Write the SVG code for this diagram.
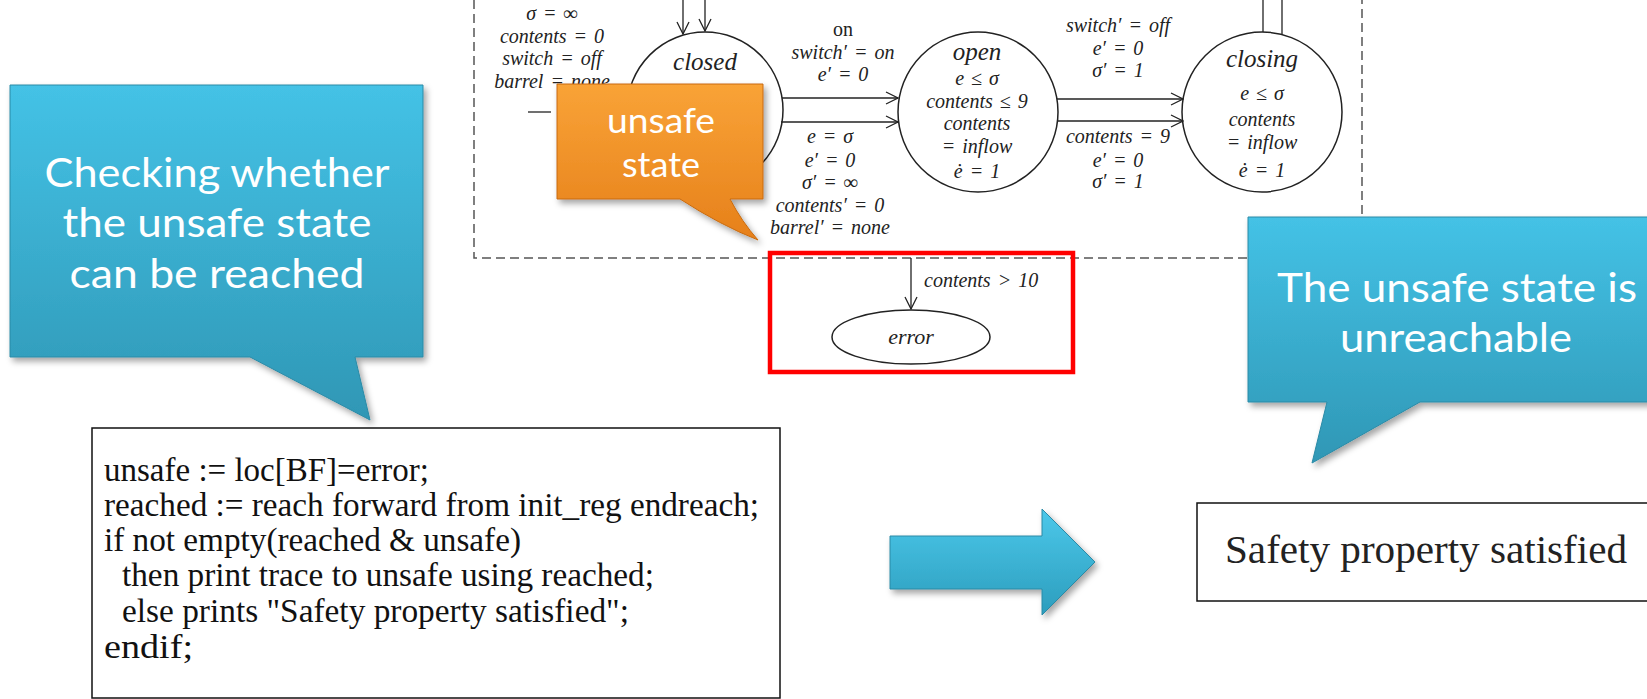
<svg xmlns="http://www.w3.org/2000/svg" width="1647" height="699" viewBox="0 0 1647 699">
<style>
.m{font-family:"Liberation Serif","DejaVu Serif",serif;font-style:italic;font-size:20px;word-spacing:2px;fill:#222;text-anchor:middle}
.r{font-family:"Liberation Serif","DejaVu Serif",serif;font-size:20px;fill:#222;text-anchor:middle}
.st{font-family:"Liberation Serif","DejaVu Serif",serif;font-style:italic;font-size:25px;fill:#222;text-anchor:middle}
.ln{stroke:#222;stroke-width:1.3;fill:none}
.code{font-family:"Liberation Serif",serif;font-size:34px;fill:#111}
.call{font-family:Lato,"Noto Sans",sans-serif;fill:#fff;text-anchor:middle}
</style>
<defs>
<linearGradient id="blue" x1="0" y1="0" x2="0" y2="1"><stop offset="0" stop-color="#44c2e6"/><stop offset="1" stop-color="#2f97b5"/></linearGradient>
<linearGradient id="blueA" x1="0" y1="0" x2="0" y2="1"><stop offset="0" stop-color="#4cc8ea"/><stop offset="1" stop-color="#2c9dbd"/></linearGradient>
<linearGradient id="orange" x1="0" y1="0" x2="0" y2="1"><stop offset="0" stop-color="#f9a337"/><stop offset="1" stop-color="#e6801a"/></linearGradient>
<filter id="sh" x="-10%" y="-10%" width="130%" height="130%"><feDropShadow dx="3" dy="4" stdDeviation="3" flood-color="#000" flood-opacity="0.35"/></filter>
<marker id="ah" markerWidth="14" markerHeight="14" refX="13" refY="7" orient="auto" markerUnits="userSpaceOnUse"><path d="M1,1 L13,7 L1,13" fill="none" stroke="#222" stroke-width="1.3"/></marker>
</defs>
<rect width="1647" height="699" fill="#fff"/>

<g id="frame"><path d="M474,0 V258 H1362 V0" fill="none" stroke="#555" stroke-width="1.5" stroke-dasharray="9,5"/></g>

<g id="connectors">
<line class="ln" x1="683" y1="0" x2="683" y2="34" marker-end="url(#ah)"/>
<line class="ln" x1="705" y1="0" x2="705" y2="31" marker-end="url(#ah)"/>
<line class="ln" x1="528" y1="112" x2="551" y2="112"/>
<line class="ln" x1="782" y1="98" x2="898" y2="98" marker-end="url(#ah)"/>
<line class="ln" x1="781" y1="122" x2="898" y2="122" marker-end="url(#ah)"/>
<line class="ln" x1="1057" y1="99" x2="1183" y2="99" marker-end="url(#ah)"/>
<line class="ln" x1="1057" y1="121" x2="1183" y2="121" marker-end="url(#ah)"/>
<line class="ln" x1="1263" y1="0" x2="1263" y2="32"/>
<line class="ln" x1="1282" y1="0" x2="1282" y2="34"/>
<line class="ln" x1="911" y1="258" x2="911" y2="309" marker-end="url(#ah)"/>
</g>

<g id="init-labels">
<text class="m" x="552" y="20">σ = ∞</text>
<text class="m" x="552" y="43">contents = 0</text>
<text class="m" x="552" y="65">switch = off</text>
<text class="m" x="552" y="88">barrel = none</text>
</g>

<g id="edge-labels">
<text class="r" x="843" y="36">on</text>
<text class="m" x="843" y="59">switch′ = on</text>
<text class="m" x="843" y="81">e′ = 0</text>
<text class="m" x="830" y="143">e = σ</text>
<text class="m" x="830" y="167">e′ = 0</text>
<text class="m" x="830" y="189">σ′ = ∞</text>
<text class="m" x="830" y="212">contents′ = 0</text>
<text class="m" x="830" y="234">barrel′ = none</text>
<text class="m" x="1118" y="32">switch′ = off</text>
<text class="m" x="1118" y="55">e′ = 0</text>
<text class="m" x="1118" y="77">σ′ = 1</text>
<text class="m" x="1118" y="143">contents = 9</text>
<text class="m" x="1118" y="167">e′ = 0</text>
<text class="m" x="1118" y="188">σ′ = 1</text>
<text class="m" x="924" y="287" style="text-anchor:start">contents &gt; 10</text>
</g>

<g id="closed">
<circle cx="705" cy="110" r="78" fill="none" stroke="#222" stroke-width="1.5"/>
<text class="st" x="705" y="70">closed</text>
</g>

<g id="open">
<circle cx="978" cy="112" r="80" fill="none" stroke="#222" stroke-width="1.5"/>
<text class="st" x="977" y="60">open</text>
<text class="m" x="977" y="85">e ≤ σ</text>
<text class="m" x="977" y="108">contents ≤ 9</text>
<text class="m" x="977" y="130">contents</text>
<text class="m" x="977" y="153">= inflow</text>
<text class="m" x="977" y="178">ė = 1</text>
</g>

<g id="closing">
<circle cx="1262" cy="112" r="80" fill="none" stroke="#222" stroke-width="1.5"/>
<text class="st" x="1262" y="67">closing</text>
<text class="m" x="1262" y="100">e ≤ σ</text>
<text class="m" x="1262" y="126">contents</text>
<text class="m" x="1262" y="149">= inflow</text>
<text class="m" x="1262" y="177">ė = 1</text>
</g>

<g id="error">
<ellipse cx="911" cy="337" rx="79" ry="27" fill="none" stroke="#222" stroke-width="1.5"/>
<text class="m" x="911" y="344" style="font-size:22px">error</text>
<rect x="770" y="253" width="303" height="119" fill="none" stroke="#ff0000" stroke-width="4.5"/>
</g>

<g id="unsafe-callout">
<path d="M557,84 H763 V199 H730 Q742,222 758,240 Q720,225 680,199 H557 Z" fill="url(#orange)" stroke="#c86a0e" stroke-width="1" filter="url(#sh)"/>
<text class="call" x="661" y="133" style="font-size:35px" textLength="108" lengthAdjust="spacingAndGlyphs">unsafe</text>
<text class="call" x="661" y="177" style="font-size:35px" textLength="78" lengthAdjust="spacingAndGlyphs">state</text>
</g>

<g id="check-callout">
<path d="M10,85 H423 V357 H355 L370,420 L250,357 H10 Z" fill="url(#blue)" stroke="#2a8aa6" stroke-width="1" filter="url(#sh)"/>
<text class="call" x="217" y="187" style="font-size:41px" textLength="345" lengthAdjust="spacingAndGlyphs">Checking whether</text>
<text class="call" x="217" y="237" style="font-size:41px" textLength="309" lengthAdjust="spacingAndGlyphs">the unsafe state</text>
<text class="call" x="217" y="288" style="font-size:41px" textLength="295" lengthAdjust="spacingAndGlyphs">can be reached</text>
</g>

<g id="result-callout">
<path d="M1248,217 H1660 V402 H1420 L1312,463 L1327,402 H1248 Z" fill="url(#blue)" stroke="#2a8aa6" stroke-width="1" filter="url(#sh)"/>
<text class="call" x="1457" y="302" style="font-size:41px" textLength="360" lengthAdjust="spacingAndGlyphs">The unsafe state is</text>
<text class="call" x="1456" y="352" style="font-size:41px" textLength="232" lengthAdjust="spacingAndGlyphs">unreachable</text>
</g>

<g id="code">
<rect x="92" y="428" width="688" height="270" fill="#fff" stroke="#111" stroke-width="1.5"/>
<text class="code" x="104" y="481" textLength="325" lengthAdjust="spacingAndGlyphs">unsafe := loc[BF]=error;</text>
<text class="code" x="104" y="516" textLength="655" lengthAdjust="spacingAndGlyphs">reached := reach forward from init_reg endreach;</text>
<text class="code" x="104" y="551" textLength="417" lengthAdjust="spacingAndGlyphs">if not empty(reached &amp; unsafe)</text>
<text class="code" x="122" y="586" textLength="532" lengthAdjust="spacingAndGlyphs">then print trace to unsafe using reached;</text>
<text class="code" x="122" y="622" textLength="507" lengthAdjust="spacingAndGlyphs">else prints "Safety property satisfied";</text>
<text class="code" x="104" y="658" textLength="89" lengthAdjust="spacingAndGlyphs">endif;</text>
</g>

<g id="big-arrow">
<path d="M890,536 H1042 V509 L1095,562 L1042,615 V589 H890 Z" fill="url(#blueA)" stroke="#2a8aa6" stroke-width="1" filter="url(#sh)"/>
</g>

<g id="result">
<rect x="1197" y="503" width="460" height="98" fill="#fff" stroke="#111" stroke-width="1.5"/>
<text x="1225" y="563" style="font-family:'Liberation Serif',serif;font-size:40px;fill:#222" textLength="402" lengthAdjust="spacingAndGlyphs">Safety property satisfied</text>
</g>
</svg>
